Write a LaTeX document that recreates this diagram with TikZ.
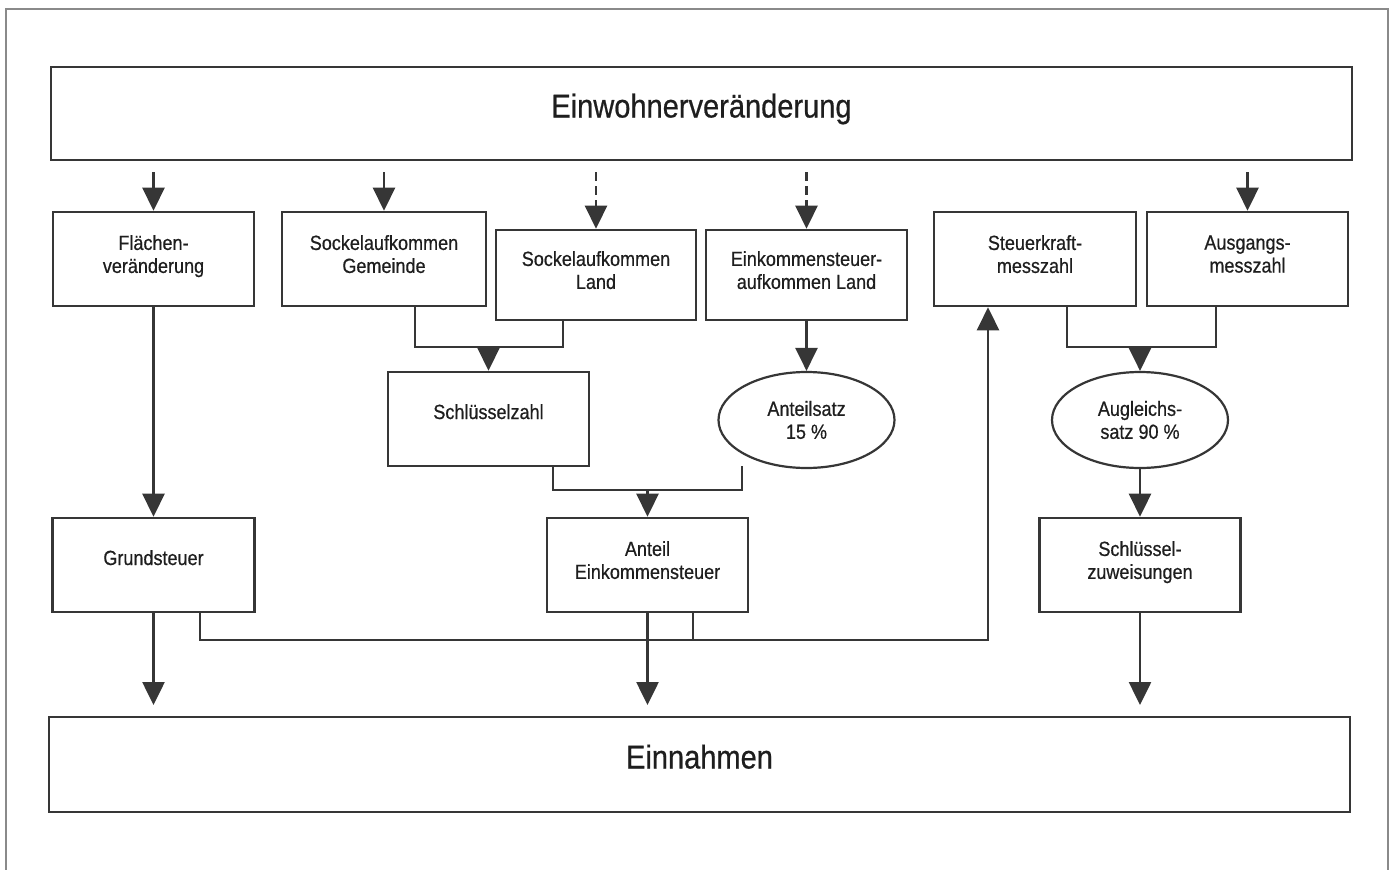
\documentclass[tikz,border=0pt]{standalone}
\usepackage{fontspec}
\setmainfont{Liberation Sans}
\newfontfamily\narrowf[FakeStretch=0.88,FakeBold=0.6]{Liberation Sans}
\usetikzlibrary{arrows.meta,shapes.geometric}
\definecolor{ink}{HTML}{363636}
\definecolor{txt}{HTML}{1E1E1E}
\definecolor{framec}{HTML}{8A8A8A}
\begin{document}
\begin{tikzpicture}[x=1pt,y=-1pt,
 ln/.style={draw=ink,line width=2.6pt},
 arr/.style={ln,-{Triangle[width=22pt,length=23pt]}},
 dsh/.style={arr,dash pattern=on 9pt off 5pt},
 box/.style={draw=ink,line width=2.6pt,rectangle,inner sep=0pt,minimum width=201pt,minimum height=94pt,align=center,text=txt,font=\narrowf\fontsize{20.5}{23}\selectfont},
 two/.style={text depth=10pt},
 one/.style={text height=14pt,text depth=14pt},
 oval/.style={box,ellipse,line width=2.2pt,minimum width=176pt,minimum height=96pt},
 big/.style={box,minimum width=1301pt,font=\narrowf\fontsize{33}{38}\selectfont,text height=24pt,text depth=16pt}]
\useasboundingbox (0,0) rectangle (1395,870);
\draw[framec,line width=1.3pt] (6,870) -- (6,9) -- (1388,9) -- (1388,870);

\node[big,minimum height=93pt] (top) at (701.5,113.5) {Einwohnerveränderung};
\node[box,two] (fl) at (153.5,259) {Flächen-\\veränderung};
\node[box,two,minimum width=204pt] (sg) at (384,259) {Sockelaufkommen\\Gemeinde};
\node[box,two,minimum width=200pt,minimum height=90pt] (sl) at (596,275) {Sockelaufkommen\\Land};
\node[box,two,minimum height=90pt] (el) at (806.5,275) {Einkommensteuer-\\aufkommen Land};
\node[box,two,minimum width=202pt] (sk) at (1035,259) {Steuerkraft-\\messzahl};
\node[box,two] (ag) at (1247.5,259) {Ausgangs-\\messzahl};
\node[box,one] (sz) at (488.5,419) {Schlüsselzahl};
\node[oval] (as) at (806.5,420) {Anteilsatz\\15 \%};
\node[oval] (aus) at (1140,420) {Augleichs-\\satz 90 \%};
\node[box,one,minimum width=202pt] (gs) at (153.5,565) {Grundsteuer};
\node[box,two] (ae) at (647.5,565) {Anteil\\Einkommensteuer};
\node[box,two] (sw) at (1140,565) {Schlüssel-\\zuweisungen};
\node[big,minimum height=95pt] (ein) at (699.5,764.5) {Einnahmen};

\coordinate (r0) at (0,172);
\coordinate (r1) at (0,347);
\coordinate (r3) at (0,490);
\coordinate (r4) at (0,640);
\coordinate (r5) at (0,705);

\draw[arr] (fl.north |- r0) -- (fl.north);
\draw[arr] (sg.north |- r0) -- (sg.north);
\draw[dsh] (sl.north |- r0) -- (sl.north);
\draw[dsh] (el.north |- r0) -- (el.north);
\draw[arr] (ag.north |- r0) -- (ag.north);

\coordinate (sgb) at ([xshift=31pt]sg.south);
\coordinate (slb) at ([xshift=-33pt]sl.south);
\draw[ln] (sgb) |- (slb |- r1) -- (slb);
\draw[arr] (sz.north |- r1) -- (sz.north);

\draw[arr] (el.south) -- (as.north);
\draw[arr] (fl.south) -- (gs.north);

\coordinate (szb) at ([xshift=64.5pt]sz.south);
\coordinate (asb) at ([xshift=-64.5pt,yshift=3pt]as.south);
\draw[ln] (szb) |- (asb |- r3) -- (asb);
\draw[arr] (ae.north |- r3) -- (ae.north);

\coordinate (skb) at ([xshift=32pt]sk.south);
\coordinate (agb) at ([xshift=-31.5pt]ag.south);
\draw[ln] (skb) |- (agb |- r1) -- (agb);
\draw[arr] (aus.north |- r1) -- (aus.north);
\draw[arr] (aus.south) -- (sw.north);

\coordinate (gsb) at ([xshift=46.5pt]gs.south);
\coordinate (skf) at ([xshift=-47pt]sk.south);
\draw[arr] (gsb) |- (skf |- r4) -- (skf);
\coordinate (aeb) at ([xshift=45.5pt]ae.south);
\draw[ln] (aeb) -- (aeb |- r4);

\draw[arr] (gs.south) -- (gs.south |- r5);
\draw[arr] (ae.south) -- (ae.south |- r5);
\draw[arr] (sw.south) -- (sw.south |- r5);
\end{tikzpicture}
\end{document}
